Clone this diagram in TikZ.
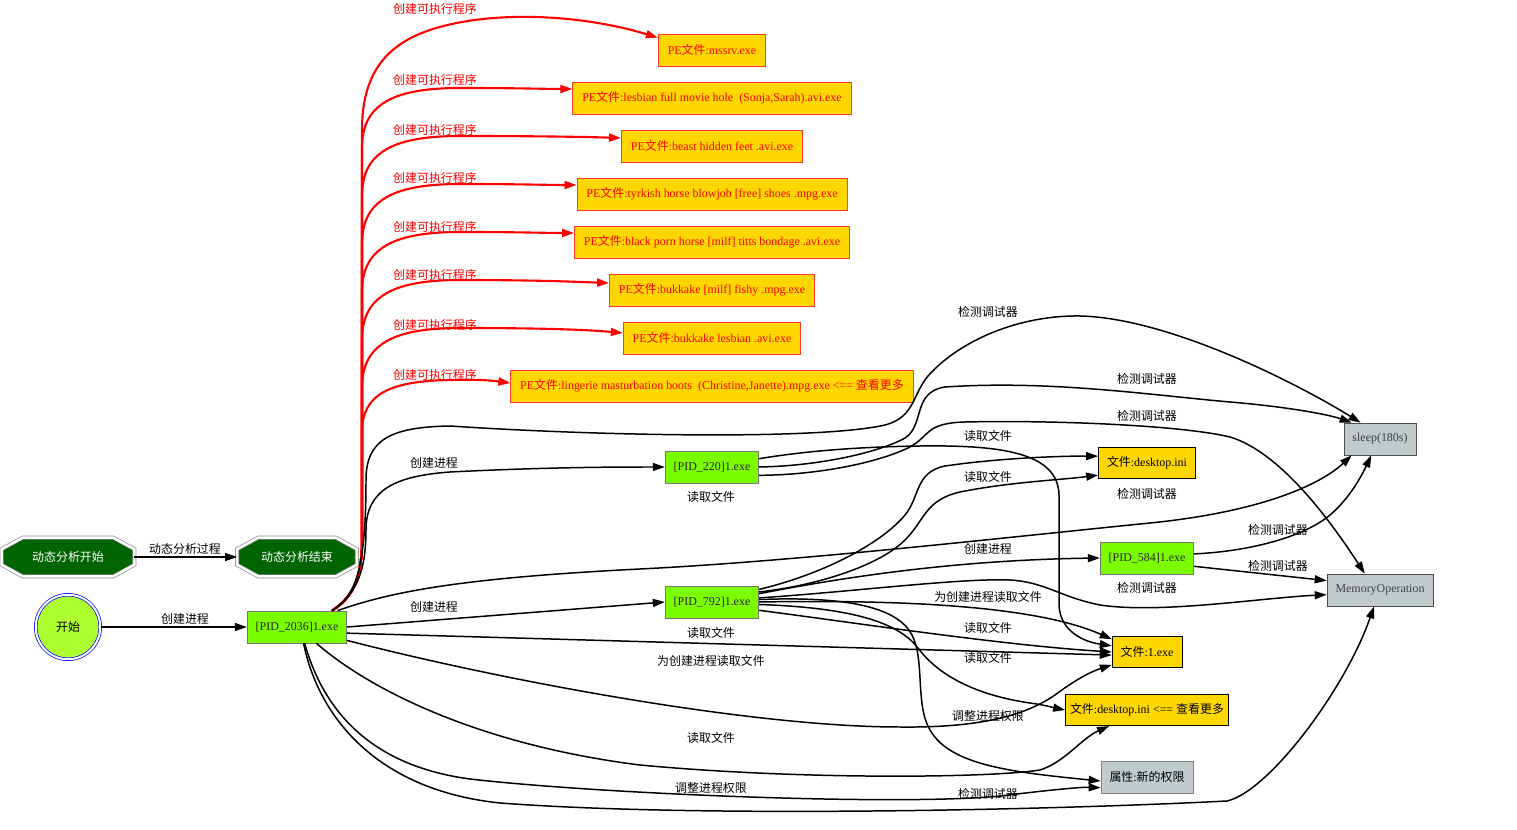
\documentclass[tikz,border=0pt]{standalone}
\usepackage{fontspec}
\setmainfont{Liberation Serif}
\newfontfamily\zh{Noto Sans CJK SC}
\usetikzlibrary{arrows.meta,backgrounds}
\definecolor{dfGold}{HTML}{FFD700}
\definecolor{dfLawn}{HTML}{7CFC00}
\definecolor{dfLime}{HTML}{ADFF2F}
\definecolor{dfForest}{HTML}{006400}
\definecolor{dfSlate}{HTML}{C1CBCB}
\definecolor{dfRed}{HTML}{FF0000}
\definecolor{dfRim}{HTML}{FF3A2A}
% octagon outline drawn round a node
\newcommand\octrim[1]{\draw[octline] ([xshift=0.42cm]#1.north west) -- ([xshift=-0.42cm]#1.north east)
  -- ([yshift=-0.23cm]#1.north east) -- ([yshift=0.23cm]#1.south east) -- ([xshift=-0.42cm]#1.south east)
  -- ([xshift=0.42cm]#1.south west) -- ([yshift=0.23cm]#1.south west) -- ([yshift=-0.23cm]#1.north west) -- cycle;}

\begin{document}
\begin{tikzpicture}[x=0.02cm,y=-0.02cm,
  font=\fontsize{6.8}{8}\selectfont, >={Triangle[length=0.24cm,width=0.16cm]},
  octa/.style={rectangle,text=white,font=\zh\fontsize{6.8}{8}\selectfont,minimum width=2.64cm,minimum height=0.76cm,inner sep=0pt},
  octline/.style={fill=dfForest,draw=black!45,double=white,double distance=0.05cm},
  origin/.style={circle,fill=dfLime,draw=blue,double=white,double distance=0.04cm,minimum size=1.29cm,
                 font=\zh\fontsize{6.8}{8}\selectfont},
  pid/.style={rectangle,fill=dfLawn,draw=black!55,text=black!85,minimum height=0.64cm,inner xsep=0.17cm},
  pe/.style={rectangle,fill=dfGold,draw=dfRim,text=dfRed,minimum height=0.64cm,inner xsep=0.19cm},
  doc/.style={rectangle,fill=dfGold,draw=black,minimum height=0.63cm,inner xsep=0.17cm},
  act/.style={rectangle,fill=dfSlate,draw=black!70,text=black!75,minimum height=0.64cm,inner xsep=0.17cm},
  lbl/.style={font=\zh\fontsize{6.8}{8}\selectfont,inner sep=0pt},
  rlbl/.style={lbl,text=dfRed},
  flow/.style={->,line width=0.85pt,black},
  spawn/.style={->,line width=1.2pt,dfRed},
]
\node[octa] (dstart) at (68,557) {动态分析开始};
\node[octa,minimum width=2.38cm] (dend) at (297,557) {动态分析结束};
\begin{pgfonlayer}{background}
  \path[use as bounding box,fill=white] (0,0) rectangle (1517,830);
  \octrim{dstart}
  \octrim{dend}
\end{pgfonlayer}
\node[origin] (begin) at (68,627) {开始};
\node[pid] (p2036) at (297,627) {[PID\_2036]1.exe};

\node[pe] (pe1) at (712,50)  {PE{\zh 文件}:mssrv.exe};
\node[pe] (pe2) at (712,98)  {PE{\zh 文件}:lesbian full movie hole\ \ (Sonja,Sarah).avi.exe};
\node[pe] (pe3) at (712,146) {PE{\zh 文件}:beast hidden feet .avi.exe};
\node[pe] (pe4) at (712,194) {PE{\zh 文件}:tyrkish horse blowjob [free] shoes .mpg.exe};
\node[pe] (pe5) at (712,242) {PE{\zh 文件}:black porn horse [milf] titts bondage .avi.exe};
\node[pe] (pe6) at (712,290) {PE{\zh 文件}:bukkake [milf] fishy .mpg.exe};
\node[pe] (pe7) at (712,338) {PE{\zh 文件}:bukkake lesbian .avi.exe};
\node[pe] (pe8) at (712,386) {PE{\zh 文件}:lingerie masturbation boots\ \ (Christine,Janette).mpg.exe <== {\zh 查看更多}};

\node[pid] (p220) at (712,467) {[PID\_220]1.exe};
\node[pid] (p792) at (712,602) {[PID\_792]1.exe};

\node[doc] (desk)  at (1147,463) {{\zh 文件}:desktop.ini};
\node[pid] (p584)  at (1147,558) {[PID\_584]1.exe};
\node[doc] (exe1)  at (1147,652) {{\zh 文件}:1.exe};
\node[doc,inner xsep=0.09cm] (deskm) at (1147,710) {{\zh 文件}:desktop.ini <== {\zh 查看更多}};
\node[act,draw=black!50,text=black] (attr) at (1147,777) {{\zh 属性}:{\zh 新的权限}};
\node[act] (sleep) at (1380,439) {sleep(180s)};
\node[act] (mem)   at (1380,590) {MemoryOperation};

% analysis frame
\draw[flow] (dstart) -- (dend) node[lbl] at (185,549) {动态分析过程};
\draw[flow] (begin) -- (p2036) node[lbl] at (185,619) {创建进程};

% dropped executables (red)
\draw[spawn] (p2036.25) .. controls (352,598) and (362,580) .. (362,540) -- (362,130) .. controls (362,75) and (385,45) .. (430,30)
  .. controls (490,10) and (580,14) .. ([yshift=-0.08cm]pe1.north west) node[rlbl] at (435,9) {创建可执行程序};
\draw[spawn] (p2036.25) .. controls (352,598) and (362,580) .. (362,540) -- (362,148) .. controls (362,106) and (390,88) .. (460,88)
  .. controls (520,88) and (545,89) .. ([yshift=0.18cm]pe2.west) node[rlbl] at (435,80) {创建可执行程序};
\draw[spawn] (p2036.25) .. controls (352,598) and (362,580) .. (362,540) -- (362,196) .. controls (362,154) and (390,136) .. (460,136)
  .. controls (540,136) and (590,137) .. ([yshift=0.16cm]pe3.west) node[rlbl] at (435,130) {创建可执行程序};
\draw[spawn] (p2036.25) .. controls (352,598) and (362,580) .. (362,540) -- (362,244) .. controls (362,202) and (390,184) .. (460,184)
  .. controls (520,184) and (545,185) .. ([yshift=0.18cm]pe4.west) node[rlbl] at (435,178) {创建可执行程序};
\draw[spawn] (p2036.25) .. controls (352,598) and (362,580) .. (362,540) -- (362,292) .. controls (362,250) and (390,232) .. (460,232)
  .. controls (520,232) and (545,233) .. ([yshift=0.18cm]pe5.west) node[rlbl] at (435,227) {创建可执行程序};
\draw[spawn] (p2036.25) .. controls (352,598) and (362,580) .. (362,540) -- (362,340) .. controls (362,298) and (390,280) .. (460,280)
  .. controls (540,280) and (580,282) .. ([yshift=0.14cm]pe6.west) node[rlbl] at (435,275) {创建可执行程序};
\draw[spawn] (p2036.25) .. controls (352,598) and (362,580) .. (362,540) -- (362,388) .. controls (362,346) and (390,328) .. (460,328)
  .. controls (550,328) and (590,330) .. ([yshift=0.1cm]pe7.west) node[rlbl] at (435,325) {创建可执行程序};
\draw[spawn] (p2036.25) .. controls (352,598) and (362,580) .. (362,540) -- (362,432) .. controls (362,394) and (390,381) .. (450,380)
  .. controls (480,379) and (495,381) .. ([yshift=0.06cm]pe8.west) node[rlbl] at (435,375) {创建可执行程序};

% child processes
\draw[flow] (p2036.25) .. controls (354,596) and (366,575) .. (366,530) .. controls (366,490) and (395,476) .. (450,472)
  .. controls (550,467) and (620,467) .. (p220.west) node[lbl] at (434,463) {创建进程};
\draw[flow] (p2036.east) -- (p792.west) node[lbl] at (434,607) {创建进程};
\draw[flow] (p792.10) .. controls (850,576) and (960,560) .. (p584.west) node[lbl] at (988,549) {创建进程};

% debugger checks
\draw[flow] (p2036.25) .. controls (354,596) and (366,575) .. (366,480) .. controls (366,440) and (390,427) .. (450,426)
  .. controls (600,436) and (820,440) .. (885,425) .. controls (915,417) and (912,395) .. (928,376)
  .. controls (960,340) and (1020,315) .. (1080,316) .. controls (1170,318) and (1300,385) .. (sleep.140)
  node[lbl] at (988,312) {检测调试器};
\draw[flow] (p220.east) .. controls (820,466) and (880,452) .. (905,438) .. controls (925,425) and (912,392) .. (945,387)
  .. controls (1050,380) and (1150,395) .. (1230,402) .. controls (1290,407) and (1330,415) .. (sleep.150)
  node[lbl] at (1147,379) {检测调试器};
\draw[flow] (p220.-10) .. controls (820,475) and (880,462) .. (910,447) .. controls (930,436) and (925,423) .. (965,422)
  .. controls (1050,420) and (1180,425) .. (1230,437) .. controls (1280,452) and (1330,520) .. (mem.133)
  node[lbl] at (1147,416) {检测调试器};
\draw[flow] (p2036.22) .. controls (390,592) and (460,578) .. (640,569) .. controls (800,561) and (1000,538) .. (1150,523)
  .. controls (1260,512) and (1320,485) .. (sleep.-150) node[lbl] at (1147,494) {检测调试器};
\draw[flow] (p792.5) .. controls (850,592) and (960,578) .. (1010,580) .. controls (1045,582) and (1060,597) .. (1100,605)
  .. controls (1160,614) and (1260,598) .. (mem.185) node[lbl] at (1147,588) {检测调试器};
\draw[flow] (p584.5) .. controls (1240,552) and (1300,540) .. (1330,515) .. controls (1350,498) and (1362,475) .. (sleep.-118)
  node[lbl] at (1278,530) {检测调试器};
\draw[flow] (p584.-10) -- (mem.170) node[lbl] at (1278,566) {检测调试器};
\draw[flow] (p2036.-68) .. controls (318,715) and (375,790) .. (500,803) .. controls (700,818) and (1050,810) .. (1227,801)
  .. controls (1268,792) and (1345,690) .. (mem.-110) node[lbl] at (988,794) {检测调试器};

% file reads
\draw[flow] (p220.10) .. controls (800,452) and (850,447) .. (920,446) .. controls (1000,445) and (1058,452) .. (1059,495)
  -- (1059,605) .. controls (1060,632) and (1085,642) .. (exe1.170) node[lbl] at (988,436) {读取文件};
\draw[flow] (p792.15) .. controls (820,575) and (880,545) .. (905,515) .. controls (920,497) and (915,472) .. (945,466)
  .. controls (1000,458) and (1060,456) .. (desk.172) node[lbl] at (711,497) {读取文件};
\draw[flow] (p792.12) .. controls (820,585) and (880,565) .. (905,540) .. controls (925,520) and (925,500) .. (960,492)
  .. controls (1010,482) and (1060,480) .. (desk.-166) node[lbl] at (988,477) {读取文件};
\draw[flow] (p792.east) .. controls (880,600) and (1030,603) .. (exe1.160) node[lbl] at (988,597) {为创建进程读取文件};
\draw[flow] (p792.-10) .. controls (850,622) and (1000,645) .. (exe1.west) node[lbl] at (988,628) {读取文件};
\draw[flow] (p792.-3) .. controls (860,608) and (900,625) .. (918,648) .. controls (938,675) and (975,695) .. (1030,703)
  .. controls (1045,705) and (1055,708) .. (deskm.west) node[lbl] at (988,658) {读取文件};
\draw[flow] (p2036.-7) -- (exe1.-175) node[lbl] at (711,633) {读取文件};
\draw[flow] (p2036.-15) .. controls (500,680) and (750,727) .. (900,727) .. controls (990,728) and (1030,712) .. (1055,695)
  .. controls (1075,680) and (1090,672) .. (exe1.-160) node[lbl] at (711,661) {为创建进程读取文件};
\draw[flow] (p2036.-40) .. controls (370,690) and (480,745) .. (640,765) .. controls (800,780) and (990,778) .. (1040,770)
  .. controls (1065,762) and (1082,738) .. (deskm.-157) node[lbl] at (711,738) {读取文件};

% privilege changes
\draw[flow] (p792.3) .. controls (850,596) and (898,608) .. (912,635) .. controls (925,660) and (915,705) .. (930,730)
  .. controls (950,765) and (1010,772) .. (attr.-175) node[lbl] at (988,716) {调整进程权限};
\draw[flow] (p2036.-65) .. controls (322,705) and (365,765) .. (470,779) .. controls (600,794) and (900,806) .. (1000,796)
  .. controls (1050,790) and (1080,787) .. (attr.-167) node[lbl] at (711,788) {调整进程权限};
\end{tikzpicture}
\end{document}
